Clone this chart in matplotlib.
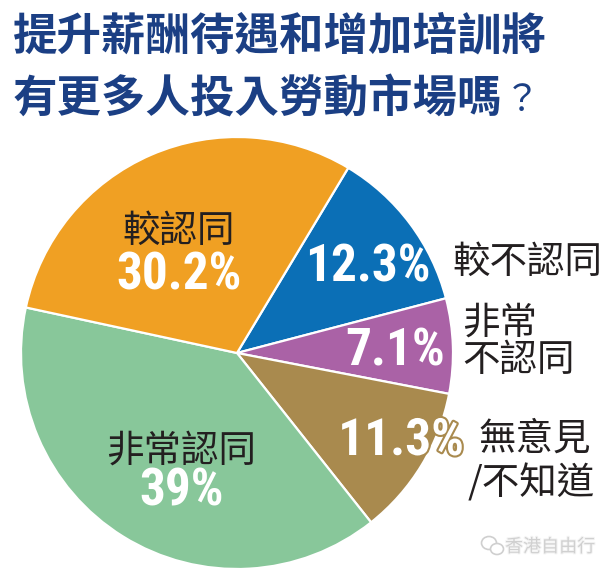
import matplotlib
matplotlib.use("Agg")
import matplotlib.pyplot as plt
import matplotlib.patheffects as pe
from matplotlib import font_manager as fm
from matplotlib.patches import Ellipse

# ---- data ----
categories = ["較不認同", "非常\n不認同", "無意見\n/不知道", "非常認同", "較認同"]
values = [12.3, 7.1, 11.3, 39.0, 30.2]
pct_labels = ["12.3%", "7.1%", "11.3%", "39%", "30.2%"]
colors = ["#0B6FB6", "#AA62A6", "#A98A4E", "#88C79A", "#F0A023"]
title_line1 = "提升薪酬待遇和增加培訓將"
title_line2 = "有更多人投入勞動市場嗎"
title_q = "？"
watermark = "香港自由行"

W, H = 603, 575
DPI = 100
CJK = ["Noto Sans CJK TC", "Noto Sans CJK SC", "DejaVu Sans"]

# pick a condensed bold font for the percentages if one is installed
num_fp = None
cands = []
for f in fm.fontManager.ttflist:
    st = str(f.stretch).lower()
    nm = f.name.lower()
    isbold = (f.weight in ("bold", 700) or (isinstance(f.weight, int) and f.weight >= 600))
    cond = ("condensed" in st) or ("narrow" in nm) or ("condensed" in nm) or st in ("semi-condensed",)
    if cond and isbold and f.style == "normal":
        cands.append(f)
pref = ["liberation sans narrow", "roboto condensed", "dejavu sans"]
cands.sort(key=lambda f: next((i for i, p in enumerate(pref) if p in f.name.lower()), 9))
if cands:
    num_fp = fm.FontProperties(fname=cands[0].fname)
    NUM_SIZE = 37
else:
    num_fp = fm.FontProperties(family=["Liberation Sans", "DejaVu Sans"], weight="bold")
    NUM_SIZE = 34

fig = plt.figure(figsize=(W / DPI, H / DPI), dpi=DPI)
fig.patch.set_facecolor("white")

# pie: center (237,353) px, radius 216 px (top-left origin)
cx, cy, R = 237, 353, 216
ax = fig.add_axes([(cx - R) / W, (H - (cy + R)) / H, 2 * R / W, 2 * R / H])
ax.pie(values, colors=colors, startangle=59, counterclock=False, radius=1,
       wedgeprops=dict(edgecolor="white", linewidth=1.6))
ax.set_xlim(-1, 1)
ax.set_ylim(-1, 1)
ax.set_aspect("equal")
ax.axis("off")


def d(px, py):
    return (px - cx) / R, (cy - py) / R


def lab(px, py, s, ha="center", size=27, color="#231F20"):
    x, y = d(px, py)
    ax.text(x, y, s, ha=ha, va="center", fontsize=size, color=color,
            family=CJK, fontweight="light", clip_on=False)


def pct(px, py, s, stroke=None):
    x, y = d(px, py)
    t = ax.text(x, y, s, ha="center", va="center", fontproperties=num_fp,
                fontsize=NUM_SIZE, color="white", clip_on=False)
    if stroke:
        t.set_path_effects([pe.withStroke(linewidth=3, foreground=stroke)])


# category labels
lab(179, 231, categories[4])
lab(181, 451, categories[3])
lab(452, 262, categories[0], ha="left")
lab(462, 323, "非常", ha="left")
lab(462, 361, "不認同", ha="left")
lab(478, 439, "無意見", ha="left")
lab(468, 484, "/不知道", ha="left")

# percentages
pct(179, 275, pct_labels[4])
pct(368, 268, pct_labels[0])
pct(395, 351, pct_labels[1])
pct(401, 441, pct_labels[2], stroke=colors[2])
pct(182, 492, pct_labels[3])

# title
tcol = "#1B3F84"
t1 = fig.text(13 / W, 1 - 37 / H, title_line1, ha="left", va="center",
              fontsize=32, fontweight="bold", color=tcol, family=CJK)
t2 = fig.text(13 / W, 1 - 99 / H, title_line2, ha="left", va="center",
              fontsize=32, fontweight="bold", color=tcol, family=CJK)
fig.canvas.draw()
bb = t2.get_window_extent()
fig.text(bb.x1 / W + 0.002, 1 - 101 / H, title_q, ha="left", va="center",
         fontsize=26, fontweight="normal", color=tcol, family=CJK)

# watermark
fig.text(505 / W, 1 - 547 / H, watermark, ha="left", va="center", fontsize=13,
         color="#D0D0D0", family=CJK,
         path_effects=[pe.withStroke(linewidth=1.5, foreground="#F4F4F4")])
e1 = Ellipse((489 / W, 1 - 543 / H), 15 / W, 13 / H, transform=fig.transFigure,
             facecolor="white", edgecolor="#CFCFCF", linewidth=1.2)
e2 = Ellipse((497 / W, 1 - 549 / H), 13 / W, 11 / H, transform=fig.transFigure,
             facecolor="white", edgecolor="#CFCFCF", linewidth=1.2)
fig.patches.extend([e1, e2])

fig.savefig("out.png", dpi=DPI, facecolor="white")
